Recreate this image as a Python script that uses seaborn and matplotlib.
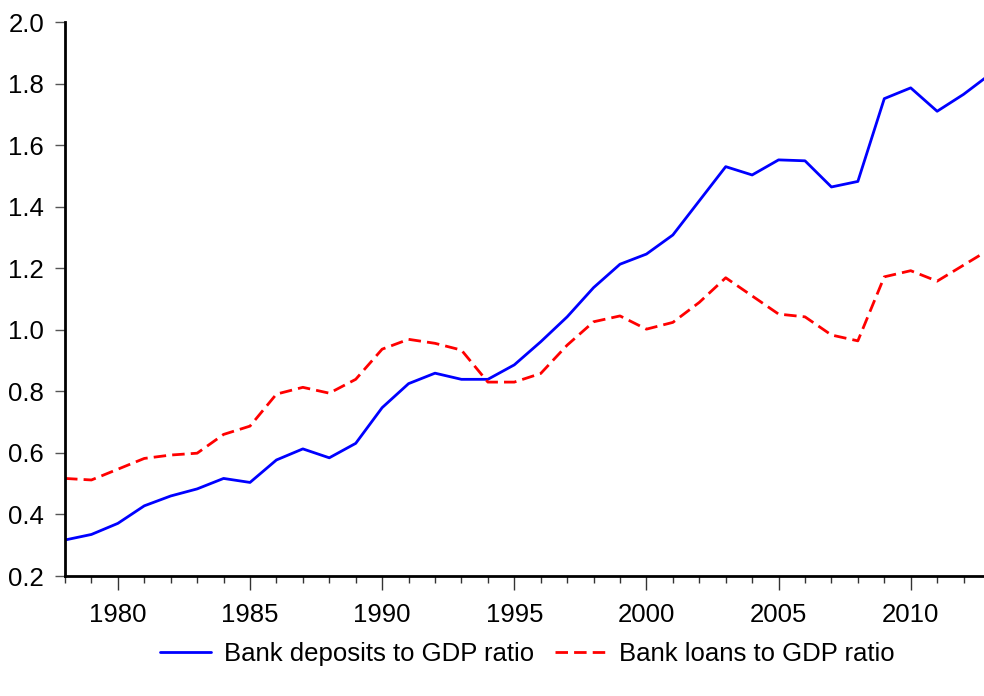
import numpy as np
import pandas as pd
import seaborn as sns
import matplotlib.pyplot as plt
from matplotlib.ticker import MultipleLocator

years = list(range(1978, 2014))

deposits = [0.317, 0.335, 0.371, 0.428, 0.460, 0.483, 0.517, 0.504, 0.577, 0.613,
            0.584, 0.631, 0.747, 0.825, 0.859, 0.839, 0.839, 0.886, 0.961, 1.042,
            1.137, 1.213, 1.246, 1.308, 1.419, 1.530, 1.503, 1.552, 1.549, 1.464,
            1.482, 1.751, 1.786, 1.710, 1.765, 1.830]

loans = [0.517, 0.512, 0.547, 0.582, 0.593, 0.599, 0.660, 0.687, 0.791, 0.813,
         0.794, 0.839, 0.937, 0.969, 0.956, 0.934, 0.830, 0.830, 0.858, 0.950,
         1.026, 1.045, 1.002, 1.024, 1.089, 1.169, 1.110, 1.051, 1.042, 0.983,
         0.964, 1.172, 1.192, 1.158, 1.210, 1.262]

series_names = ["Bank deposits to GDP ratio", "Bank loans to GDP ratio"]

df = pd.DataFrame({
    "year": years * 2,
    "value": deposits + loans,
    "series": [series_names[0]] * len(years) + [series_names[1]] * len(years),
})

sns.set_style("ticks")
plt.rcParams["font.family"] = ["Liberation Sans", "DejaVu Sans"]
plt.rcParams["text.color"] = "black"
plt.rcParams["xtick.labelcolor"] = "black"
plt.rcParams["ytick.labelcolor"] = "black"

fig = plt.figure(figsize=(9.84, 6.96), dpi=100)
ax = fig.add_axes([65 / 984, 120 / 696, 925 / 984, 554 / 696])

sns.lineplot(data=df, x="year", y="value", hue="series", style="series",
             palette=["#0000ff", "#ff0000"], dashes=[(None, None), (4.5, 2.2)],
             linewidth=2.0, ax=ax, legend=True)

ax.set_xlim(1978, 2013)
ax.set_ylim(0.2, 2.0)
ax.set_xlabel("")
ax.set_ylabel("")
ax.xaxis.set_major_locator(MultipleLocator(5))
ax.xaxis.set_minor_locator(MultipleLocator(1))
ax.yaxis.set_major_locator(MultipleLocator(0.2))
ax.yaxis.set_major_formatter(plt.FuncFormatter(lambda v, p: f"{v:.1f}"))

for s in ["top", "right"]:
    ax.spines[s].set_visible(False)
for s in ["left", "bottom"]:
    ax.spines[s].set_linewidth(2.0)
    ax.spines[s].set_color("black")

ax.tick_params(axis="x", which="major", length=10, width=1, color="#333333",
               labelsize=18.5, pad=9.5)
ax.tick_params(axis="x", which="minor", length=5, width=1, color="#333333")
ax.tick_params(axis="y", which="major", length=7, width=1, color="#555555",
               labelsize=18.5, pad=8)

handles, labels = ax.get_legend_handles_labels()
ax.legend(handles, labels, loc="center", bbox_to_anchor=(0.5, -0.14), ncol=2,
          frameon=False, fontsize=18.5, handlelength=2.0, handletextpad=0.5,
          columnspacing=0.8)

fig.savefig("out.png", dpi=100)
